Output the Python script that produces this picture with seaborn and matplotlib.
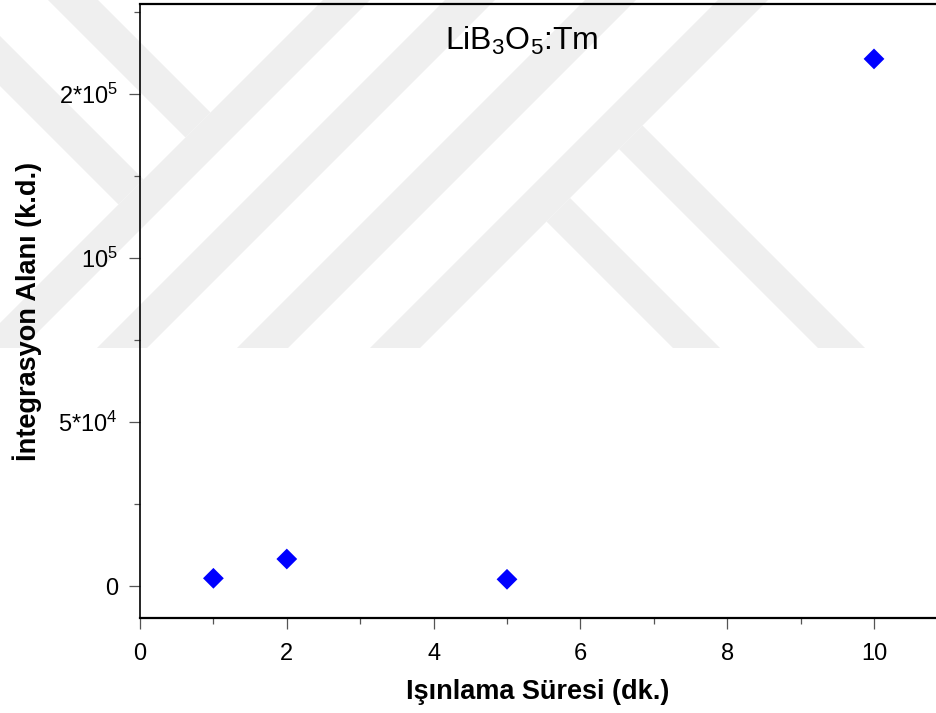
import matplotlib
matplotlib.use("Agg")
import matplotlib.pyplot as plt
from matplotlib.patches import Polygon
from matplotlib.ticker import FixedLocator
import seaborn as sns
import pandas as pd

# ---- data ----
irradiation_min = [1, 2, 5, 10]
integration_area = [2350, 8230, 2040, 160700]
y_major_ticks = [0, 50000, 100000, 150000]
y_major_labels = ["0", r"5*10$^4$", r"10$^5$", r"2*10$^5$"]
y_minor_ticks = [25000, 75000, 125000, 175000]
x_major_ticks = [0, 2, 4, 6, 8, 10]
x_minor_ticks = [1, 3, 5, 7, 9]
title_text = r"LiB$_3$O$_5$:Tm"
x_label = "Işınlama Süresi (dk.)"
y_label = "İntegrasyon Alanı (k.d.)"

sns.set_theme(style="ticks")
plt.rcParams["font.family"] = ["Liberation Sans", "DejaVu Sans"]
plt.rcParams["mathtext.fontset"] = "custom"
plt.rcParams["mathtext.rm"] = "Liberation Sans"
plt.rcParams["mathtext.it"] = "Liberation Sans:italic"
plt.rcParams["mathtext.bf"] = "Liberation Sans:bold"
plt.rcParams["text.color"] = "black"
plt.rcParams["axes.labelcolor"] = "black"
plt.rcParams["xtick.color"] = "black"
plt.rcParams["ytick.color"] = "black"

W, H = 936, 713
fig = plt.figure(figsize=(W / 100, H / 100), dpi=100)
fig.patch.set_facecolor("white")

# ---- faint background watermark (decorative diagonal bands, pixel geometry) ----
def px(pts):
    return [(x / W, 1 - y / H) for x, y in pts]

wm_color = "#efefef"
y_cut = 348
slash_bands = [(323, 370), (445, 495), (585, 636), (718, 768)]  # x+y ranges
for a, b in slash_bands:
    poly = [(a, 0), (b, 0), (b - y_cut, y_cut), (a - y_cut, y_cut)]
    fig.add_artist(Polygon(px(poly), closed=True, transform=fig.transFigure,
                           facecolor=wm_color, edgecolor="none", zorder=-5))
# "\" bands ending on the left edge of first slash band (x+y = 323)
edge_l = 323
for a, b in [(48, 98), (-86, -36)]:
    poly = [(a, 0), (b, 0), ((edge_l + b) / 2, (edge_l - b) / 2),
            ((edge_l + a) / 2, (edge_l - a) / 2)]
    fig.add_artist(Polygon(px(poly), closed=True, transform=fig.transFigure,
                           facecolor=wm_color, edgecolor="none", zorder=-5))
# "\" bands hanging from right edge of last slash band (x+y = 768) down to y_cut
edge_r = 768
for a, b in [(325, 372), (470, 517)]:
    poly = [((edge_r + a) / 2, (edge_r - a) / 2), ((edge_r + b) / 2, (edge_r - b) / 2),
            (b + y_cut, y_cut), (a + y_cut, y_cut)]
    fig.add_artist(Polygon(px(poly), closed=True, transform=fig.transFigure,
                           facecolor=wm_color, edgecolor="none", zorder=-5))

# ---- axes ----
ax = fig.add_axes([140 / W, (H - 618) / H, (W - 140) / W, (618 - 4) / H])
ax.patch.set_alpha(0)

df = pd.DataFrame({"t": irradiation_min, "area": integration_area})
sns.scatterplot(data=df, x="t", y="area", ax=ax, marker="D", s=112,
                color="#0000ff", edgecolor="none", linewidth=0, zorder=5)

ax.set_xlim(0, 10 * (W - 140) / (874 - 140))
ax.set_ylim(-9756, 177440)

ax.xaxis.set_major_locator(FixedLocator(x_major_ticks))
ax.xaxis.set_minor_locator(FixedLocator(x_minor_ticks))
ax.set_xticklabels([str(v) for v in x_major_ticks])
ax.yaxis.set_major_locator(FixedLocator(y_major_ticks))
ax.yaxis.set_minor_locator(FixedLocator(y_minor_ticks))
ax.set_yticklabels(y_major_labels)

ax.tick_params(axis="both", which="major", direction="out", length=8, width=0.9,
               color="#555555", labelsize=17, labelcolor="black")
ax.tick_params(axis="both", which="minor", direction="out", length=4.5, width=0.9,
               color="#555555")
ax.tick_params(axis="x", which="major", pad=10)
ax.tick_params(axis="y", which="major", pad=8)

for side in ["top", "bottom"]:
    ax.spines[side].set_linewidth(1.6)
    ax.spines[side].set_color("black")
ax.spines["left"].set_linewidth(1.2)
ax.spines["left"].set_color("black")
ax.spines["right"].set_visible(False)

ax.set_xlabel(x_label, fontsize=19.5, fontweight="bold", labelpad=10, color="black")
ax.set_ylabel(y_label, fontsize=19.5, fontweight="bold", labelpad=12, color="black")

ax.text((522 - 140) / (W - 140), (618 - 50) / (618 - 4), title_text,
        transform=ax.transAxes, fontsize=23, ha="center", va="baseline",
        color="black")

fig.savefig("out.png", dpi=100)
